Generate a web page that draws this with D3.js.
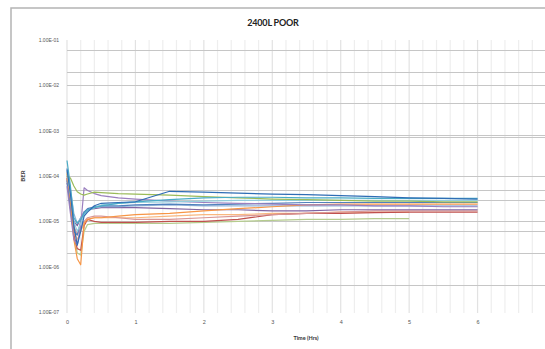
<!DOCTYPE html>
<html>
<head>
<meta charset="utf-8">
<script src="https://cdn.jsdelivr.net/npm/d3@7"></script>
<style>
  body { margin: 0; background: #fff; }
  svg { display: block; font-family: "Lato", "Liberation Sans", sans-serif; }
</style>
</head>
<body>
<div id="container"></div>
<script>
// time points (hrs)
var times = [0, 0.05, 0.1, 0.15, 0.2, 0.25, 0.3, 0.4, 0.5, 0.75, 1, 1.5, 2, 2.5, 3, 3.5, 4, 4.5, 5, 5.5, 6];

// BER per run
var blue      = [1.4e-4, 4e-5, 8e-6, 3e-6, 6e-6, 1.3e-5, 1.6e-5, 2.2e-5, 2.5e-5, 2.6e-5, 2.7e-5, 4.6e-5, 4.4e-5, 4.2e-5, 4.0e-5, 3.9e-5, 3.7e-5, 3.5e-5, 3.3e-5, 3.2e-5, 3.1e-5];
var aqua      = [2.2e-4, 6e-5, 1.2e-5, 9e-6, 1.1e-5, 1.5e-5, 1.8e-5, 2e-5, 2.2e-5, 2.5e-5, 2.7e-5, 3.0e-5, 3.3e-5, 3.4e-5, 3.4e-5, 3.3e-5, 3.3e-5, 3.2e-5, 3.2e-5, 3.2e-5, 3.2e-5];
var green     = [1.0e-4, 9e-5, 6e-5, 4.5e-5, 4e-5, 3.8e-5, 4.0e-5, 4.4e-5, 4.3e-5, 4.1e-5, 4.0e-5, 3.8e-5, 3.5e-5, 3.3e-5, 3.1e-5, 3.0e-5, 2.9e-5, 2.8e-5, 2.8e-5, 2.7e-5, 2.7e-5];
var purple    = [6e-5, 1.5e-5, 4e-6, 3e-6, 8e-6, 5.5e-5, 4.8e-5, 4.1e-5, 3.7e-5, 3.3e-5, 3.1e-5, 2.8e-5, 2.6e-5, 2.5e-5, 2.4e-5, 2.3e-5, 2.3e-5, 2.2e-5, 2.2e-5, 2.1e-5, 2.1e-5];
var red       = [9e-5, 2e-5, 5e-6, 2.5e-6, 2.3e-6, 8e-6, 1.1e-5, 1.0e-5, 9.5e-6, 9.5e-6, 9.5e-6, 1.0e-5, 1.0e-5, 1.1e-5, 1.4e-5, 1.5e-5, 1.5e-5, 1.55e-5, 1.6e-5, 1.6e-5, 1.6e-5];
var orange    = [1.2e-4, 3e-5, 4e-6, 1.5e-6, 1.1e-6, 9e-6, 1.1e-5, 1.2e-5, 1.2e-5, 1.3e-5, 1.4e-5, 1.5e-5, 1.7e-5, 1.9e-5, 2.1e-5, 2.3e-5, 2.4e-5, 2.4e-5, 2.4e-5, 2.4e-5, 2.4e-5];
var darkBlue  = [8e-5, 2e-5, 6e-6, 5e-6, 1e-5, 1.6e-5, 1.9e-5, 2.1e-5, 2.2e-5, 2.2e-5, 2.3e-5, 2.4e-5, 2.3e-5, 2.4e-5, 2.5e-5, 2.6e-5, 2.6e-5, 2.6e-5, 2.6e-5, 2.6e-5, 2.6e-5];
var ltGreen   = [1.1e-4, 3e-5, 5e-6, 2e-6, 1.8e-6, 6e-6, 8.5e-6, 9e-6, 9e-6, 9e-6, 9e-6, 9e-6, 9.5e-6, 1.0e-5, 1.05e-5, 1.1e-5, 1.1e-5, 1.15e-5, 1.15e-5];
var ltPurple  = [7e-5, 2.5e-5, 1e-5, 8e-6, 1.2e-5, 1.6e-5, 1.8e-5, 1.9e-5, 2e-5, 2e-5, 2e-5, 1.9e-5, 1.8e-5, 1.8e-5, 1.7e-5, 1.7e-5, 1.8e-5, 1.8e-5, 1.8e-5, 1.8e-5, 1.8e-5];
var ltRed     = [1e-4, 3e-5, 8e-6, 5e-6, 7e-6, 1.0e-5, 1.2e-5, 1.3e-5, 1.3e-5, 1.2e-5, 1.1e-5, 1.1e-5, 1.2e-5, 1.3e-5, 1.4e-5, 1.5e-5, 1.6e-5, 1.7e-5, 1.7e-5, 1.7e-5, 1.7e-5];
var ltBlue    = [1.5e-4, 5e-5, 1.5e-5, 9e-6, 1.2e-5, 1.6e-5, 1.8e-5, 2e-5, 2.1e-5, 2.1e-5, 2.2e-5, 2.3e-5, 2.2e-5, 2.2e-5, 2.2e-5, 2.2e-5, 2.2e-5, 2.2e-5, 2.2e-5, 2.2e-5, 2.2e-5];
var ltOrange  = [9e-5, 2e-5, 6e-6, 4e-6, 6e-6, 9e-6, 1.1e-5, 1.2e-5, 1.2e-5, 1.2e-5, 1.2e-5, 1.3e-5, 1.4e-5, 1.4e-5, 1.5e-5, 1.5e-5, 1.6e-5, 1.6e-5, 1.6e-5];
var ltAqua    = [1.3e-4, 4e-5, 1e-5, 6e-6, 9e-6, 1.4e-5, 1.7e-5, 2e-5, 2.3e-5, 2.5e-5, 2.6e-5, 2.7e-5, 2.8e-5, 2.9e-5, 2.9e-5, 2.9e-5, 2.9e-5, 2.9e-5, 2.9e-5, 2.9e-5, 2.9e-5];

var series = [ltGreen, ltOrange, red, ltRed, ltPurple, ltBlue, darkBlue, orange, purple, ltAqua, green, aqua, blue];
var colors = ["#B5CC8E", "#F9B77F", "#C0504D", "#D99694", "#8064A2", "#95B3D7", "#4F81BD", "#F79646", "#9A7FBF", "#93CDDD", "#9BBB59", "#4BACC6", "#2F6DB5"];

var yTicks = [1e-1, 1e-2, 1e-3, 1e-4, 1e-5, 1e-6, 1e-7];
var gridValues = [6e-2, 2e-2, 1e-2, 4e-3, 8e-4, 7.4e-4, 1e-4, 5e-5, 3e-5, 1e-5, 6e-6, 2e-6, 4e-7];
var xTicks = [0, 1, 2, 3, 4, 5, 6];

var W = 545, H = 349;
var plotLeft = 67, plotRight = 546, plotTop = 40, plotBottom = 312;

var svg = d3.select("#container").append("svg")
  .attr("width", W).attr("height", H);

// chart frame
svg.append("rect")
  .attr("x", 11).attr("y", 8)
  .attr("width", 700).attr("height", 500)
  .attr("fill", "#fff")
  .attr("stroke", "#b4b4b4")
  .attr("stroke-width", 1.5);

var x = d3.scaleLinear().domain([0, 7]).range([plotLeft, plotRight]);
var y = d3.scaleLog().domain([1e-7, 1e-1]).range([plotBottom, plotTop]);

// vertical gridlines every 0.2
var minorX = d3.range(0, 35).map(function(i){ return i * 0.2; });
svg.append("g").selectAll("line")
    .data(minorX)
  .enter().append("line")
    .attr("x1", function(d){ return x(d); })
    .attr("x2", function(d){ return x(d); })
    .attr("y1", plotTop).attr("y2", plotBottom + 1)
    .attr("stroke", function(d, i){ return i % 5 == 0 ? "#e2e2e2" : "#eeeeee"; })
    .attr("stroke-width", 1.2);

// horizontal gridlines
svg.append("g").selectAll("line")
    .data(gridValues)
  .enter().append("line")
    .attr("x1", plotLeft).attr("x2", W)
    .attr("y1", function(d){ return Math.round(y(d)) + 0.5; })
    .attr("y2", function(d){ return Math.round(y(d)) + 0.5; })
    .attr("stroke", "#c6c6c6")
    .attr("stroke-width", 1.2);

// series lines
var line = d3.line()
  .x(function(d, i){ return x(times[i]); })
  .y(function(d){ return y(d); });

svg.append("g").selectAll("path")
    .data(series)
  .enter().append("path")
    .attr("d", function(d){ return line(d); })
    .attr("fill", "none")
    .attr("stroke", function(d, i){ return colors[i]; })
    .attr("stroke-width", 1.2)
    .attr("stroke-linejoin", "round");

// y axis labels
var yAxis = d3.axisLeft(y)
  .tickValues(yTicks)
  .tickSize(0)
  .tickPadding(8)
  .tickFormat(function(d){ return "1.00E-0" + Math.round(-Math.log10(d)); });

svg.append("g")
  .attr("transform", "translate(" + plotLeft + ",0)")
  .call(yAxis)
  .call(function(g){ g.select(".domain").remove(); })
  .selectAll("text")
    .attr("font-size", 5)
    .attr("fill", "#555");

// x axis labels
var xAxis = d3.axisBottom(x)
  .tickValues(xTicks)
  .tickSize(0)
  .tickPadding(8)
  .tickFormat(d3.format("d"));

svg.append("g")
  .attr("transform", "translate(0," + plotBottom + ")")
  .call(xAxis)
  .call(function(g){ g.select(".domain").remove(); })
  .selectAll("text")
    .attr("font-size", 5.5)
    .attr("fill", "#555");

// titles
svg.append("text")
  .attr("x", 273).attr("y", 26)
  .attr("text-anchor", "middle")
  .attr("font-size", 9)
  .attr("letter-spacing", -0.2)
  .attr("font-weight", "bold")
  .attr("fill", "#222")
  .text("2400L POOR");

svg.append("text")
  .attr("x", 306).attr("y", 340)
  .attr("text-anchor", "middle")
  .attr("font-size", 5.5)
  .attr("font-weight", "bold")
  .attr("fill", "#333")
  .text("Time (Hrs)");

svg.append("text")
  .attr("transform", "translate(25,176) rotate(-90)")
  .attr("text-anchor", "middle")
  .attr("font-size", 6)
  .attr("font-weight", "bold")
  .attr("fill", "#333")
  .text("BER");
</script>
</body>
</html>
